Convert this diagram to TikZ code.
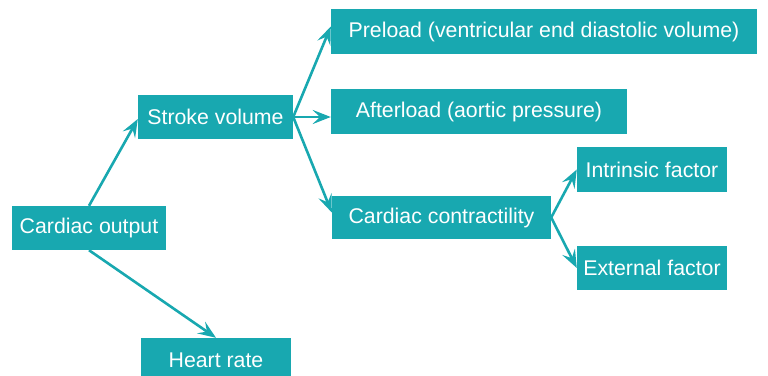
\documentclass[tikz,border=0pt]{standalone}
\usepackage{fontspec}
\setmainfont{Liberation Sans}
\usetikzlibrary{arrows.meta,calc}
\definecolor{teal1}{RGB}{24,168,176}
\begin{document}
\begin{tikzpicture}[x=1pt,y=-1pt,
  box/.style={fill=teal1,draw=none,text=white,inner sep=0pt,minimum height=44pt,
    font=\fontsize{21.3}{25}\selectfont},
  conn/.style={draw=teal1,line width=2.6pt,-{Stealth[length=18pt,width=14pt,inset=7pt]}}]
\useasboundingbox (0,0) rectangle (768,375);
\node[box,minimum width=154pt] (co) at (89,228) {Cardiac output};
\node[box,minimum width=155pt] (sv) at (215.5,117) {Stroke volume};
\node[box,minimum width=426pt,minimum height=45pt] (pre) at (544,31.5) {Preload (ventricular end diastolic volume)};
\node[box,minimum width=296pt,minimum height=45pt] (aft) at (479,111.5) {Afterload (aortic pressure)};
\node[box,minimum width=219pt,minimum height=43pt] (cc) at (441.5,217.5) {Cardiac contractility};
\node[box,minimum width=150pt,minimum height=45pt] (intr) at (652,169.5) {Intrinsic factor};
\node[box,minimum width=150pt] (ext) at (652,268) {External factor};
\node[box,minimum width=150pt] (hr) at (216,360) {Heart rate};
\draw[conn] (co.north) -- ($(sv.west)+(0,2)$);
\draw[conn] (co.south) -- (hr.north);
\draw[conn] (sv.east) -- ($(pre.west)+(0,-5)$);
\draw[conn] (sv.east) -- (sv.east -| aft.west);
\draw[conn] (sv.east) -- ($(cc.west)+(0,-5)$);
\draw[conn] (cc.east) -- (intr.west);
\draw[conn] (cc.east) -- (ext.west);
\end{tikzpicture}
\end{document}
